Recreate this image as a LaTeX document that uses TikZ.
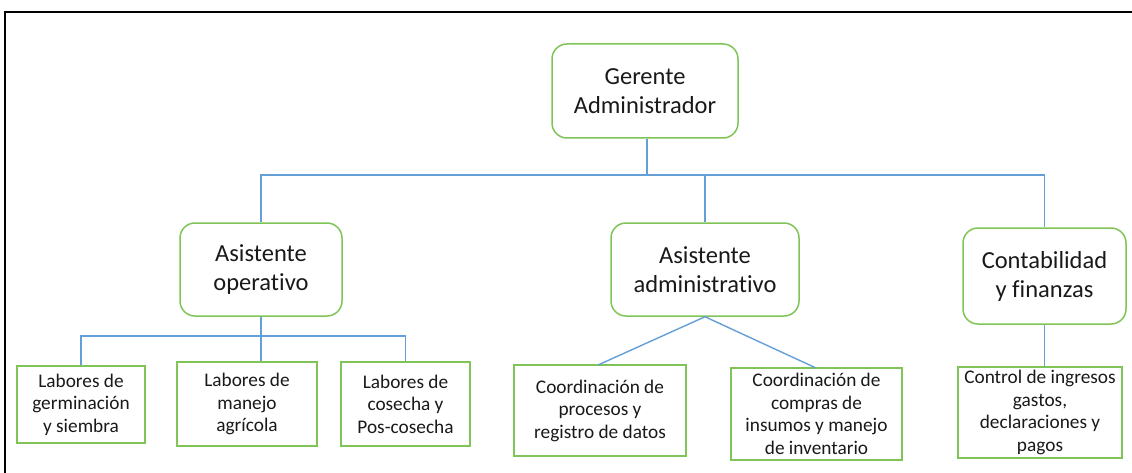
\documentclass[tikz,border=0pt]{standalone}
\usepackage{fontspec}
\setmainfont{Carlito}[Ligatures={NoCommon}]
\definecolor{boxgreen}{RGB}{128,196,88}
\definecolor{linkblue}{RGB}{100,160,215}
\definecolor{txt}{RGB}{25,25,25}
\tikzset{
  bigbox/.style={draw=boxgreen, line width=1.5pt, rounded corners=15pt, align=center, inner sep=2pt,
    text=txt, font=\fontsize{24.5}{29}\selectfont},
  smallbox/.style={draw=boxgreen, line width=1.5pt, align=center, inner sep=0pt,
    text=txt, font=\fontsize{19.3}{22.5}\selectfont},
  conn/.style={draw=linkblue, line width=1.4pt},
  frameline/.style={draw=black, line width=2.5pt}
}
\begin{document}
\begin{tikzpicture}[x=1pt,y=-1pt]
\useasboundingbox (0,0) rectangle (1132,473);
% frame
\coordinate (fa) at (1132,12);
\coordinate (fb) at (5,12);
\coordinate (fc) at (5,473);
\draw[frameline] (fa) -- (fb) -- (fc);
% top level
\node[bigbox, minimum width=186pt, minimum height=94pt] (ger) at (645,91) {Gerente\\Administrador};
% second level
\node[bigbox, minimum width=162pt, minimum height=93pt] (aop) at (261,269.5) {Asistente\\operativo};
\node[bigbox, minimum width=188pt, minimum height=93pt] (aad) at (705,269.5) {Asistente\\administrativo};
\node[bigbox, minimum width=163pt, minimum height=96pt] (con) at (1044.5,276) {Contabilidad\\y finanzas};
% third level
\node[smallbox, minimum width=128pt, minimum height=77pt] (l1) at (81,404.5) {Labores de\\germinación\\y siembra};
\node[smallbox, minimum width=140pt, minimum height=84pt] (l2) at (247,404) {Labores de\\manejo\\agrícola};
\node[smallbox, minimum width=129pt, minimum height=84pt] (l3) at (405.5,404) {Labores de\\cosecha y\\Pos-cosecha};
\node[smallbox, minimum width=172pt, minimum height=91pt] (c1) at (600,410.5) {Coordinación de\\procesos y\\registro de datos};
\node[smallbox, minimum width=171pt, minimum height=92pt] (c2) at (816.5,414) {Coordinación de\\compras de\\insumos y manejo\\de inventario};
\node[smallbox, minimum width=164pt, minimum height=91pt] (c3) at (1040,412.5) {Control de ingresos\\gastos,\\declaraciones y\\pagos};
% connectors level 1
\coordinate (bus) at (647,175);
\draw[conn] (ger.south -| bus) -- (bus);
\draw[conn] (aop.north) -- (aop.north |- bus) -- (con.north |- bus) -- (con.north);
\draw[conn] (aad.north) -- (aad.north |- bus);
% connectors under Asistente operativo
\coordinate (bus2) at (260,336);
\draw[conn] (aop.south) -- (l2.north -| aop.south);
\draw[conn] (l1.north) -- (l1.north |- bus2) -- (l3.north |- bus2) -- (l3.north);
% diagonal connectors
\coordinate (d1) at (598,365);
\coordinate (d2) at (816,368);
\draw[conn] (aad.south) -- (d1);
\draw[conn] (aad.south) -- (d2);
% contabilidad
\draw[conn] (con.south) -- (c3.north -| con.south);
\end{tikzpicture}
\end{document}
